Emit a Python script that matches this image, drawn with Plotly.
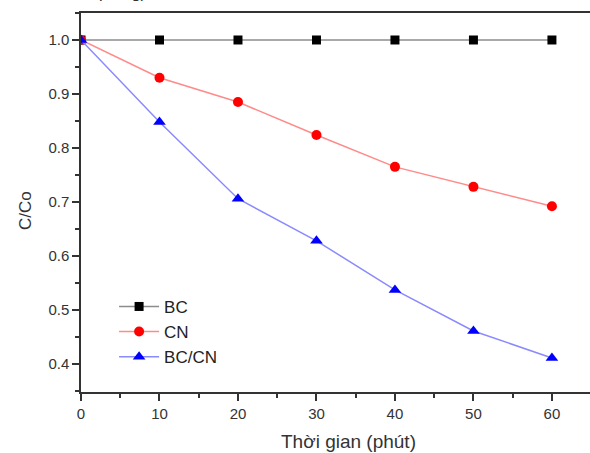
import plotly.graph_objects as go

time_min = [0, 10, 20, 30, 40, 50, 60]
bc = [1.0, 1.0, 1.0, 1.0, 1.0, 1.0, 1.0]
cn = [1.0, 0.930, 0.885, 0.824, 0.765, 0.728, 0.692]
bccn = [1.0, 0.848, 0.706, 0.628, 0.537, 0.461, 0.411]

x_ticks = [0, 10, 20, 30, 40, 50, 60]
y_ticks = [0.4, 0.5, 0.6, 0.7, 0.8, 0.9, 1.0]

FONT = "Liberation Sans, Arial"
AX = "#333333"

fig = go.Figure()
fig.add_trace(go.Scatter(x=time_min, y=bc, name="BC", mode="lines+markers",
                         line=dict(color="#8c8c8c", width=1.5),
                         marker=dict(symbol="square", size=9, color="black")))
fig.add_trace(go.Scatter(x=time_min, y=cn, name="CN", mode="lines+markers",
                         line=dict(color="#ff8a8a", width=1.5),
                         marker=dict(symbol="circle", size=10, color="#ff0000")))
fig.add_trace(go.Scatter(x=time_min, y=bccn, name="BC/CN", mode="lines+markers",
                         line=dict(color="#8a8aff", width=1.5),
                         marker=dict(symbol="triangle-up", size=11, color="#0000ff")))

axis_common = dict(showgrid=False, zeroline=False, showline=True, linecolor=AX,
                   linewidth=1.5, ticks="outside", ticklen=7, tickwidth=1.5, tickcolor=AX,
                   tickfont=dict(family=FONT, size=15, color=AX))

fig.update_layout(
    width=590, height=453,
    margin=dict(l=81, r=0, t=13, b=61),
    paper_bgcolor="white", plot_bgcolor="white",
    showlegend=True,
    legend=dict(x=0.065, y=0.272, xanchor="left", yanchor="top",
                font=dict(family=FONT, size=17, color="#222222"),
                bgcolor="rgba(0,0,0,0)", tracegroupgap=0, itemwidth=40),
    xaxis=dict(range=[0, 64.85], tickvals=x_ticks,
               minor=dict(ticks="outside", ticklen=4, tickwidth=1.5, tickcolor=AX, dtick=5, tick0=0),
               **axis_common),
    xaxis2=dict(overlaying="x", side="top", showline=True, linecolor=AX, linewidth=1.5,
                showticklabels=False, ticks="", showgrid=False, zeroline=False, range=[0, 64.85]),
    yaxis=dict(range=[0.348, 1.05], tickvals=y_ticks, ticktext=[f"{v:.1f}" for v in y_ticks],
               minor=dict(ticks="outside", ticklen=4, tickwidth=1.5, tickcolor=AX, dtick=0.05, tick0=0.35),
               **axis_common),
)
fig.add_trace(go.Scatter(x=[0], y=[None], xaxis="x2", showlegend=False, hoverinfo="skip"))

# axis titles as annotations (positioned as in the reference)
fig.add_annotation(text="Thời gian (phút)", xref="paper", yref="paper",
                   x=(348 - 81) / 509, y=-(441 - 392) / 379, xanchor="center", yanchor="middle",
                   showarrow=False, font=dict(family=FONT, size=19, color=AX))
fig.add_annotation(text="C/Co", xref="paper", yref="paper", textangle=-90,
                   x=-(81 - 25) / 509, y=1 - (211 - 13) / 379, xanchor="center", yanchor="middle",
                   showarrow=False, font=dict(family=FONT, size=17, color=AX))

fig.add_annotation(text="chất nào tác quang).", xref="paper", yref="paper",
                   x=-81 / 509 - 0.012, y=1 + 9 / 379, xanchor="left", yanchor="bottom",
                   showarrow=False, font=dict(family=FONT, size=17, color=AX))

fig.write_html("out.html")
